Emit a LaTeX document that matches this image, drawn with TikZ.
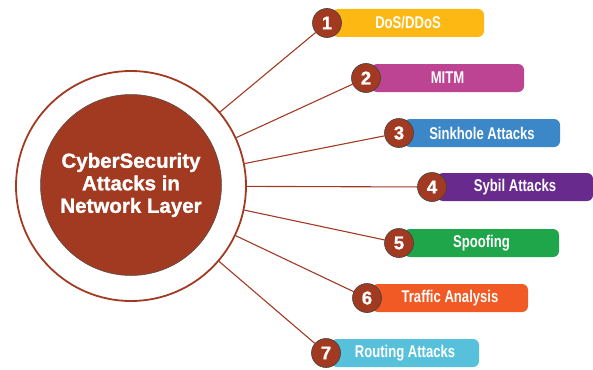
\documentclass[tikz,border=0pt]{standalone}
\usepackage{fontspec}
\setmainfont{Liberation Sans}
\newfontfamily\narrowfont[FakeStretch=0.77]{Liberation Sans}
\newfontfamily\heavyfont[BoldFeatures={FakeBold=1.2}]{Liberation Sans}
\usepackage{tikz}
\usetikzlibrary{positioning,backgrounds}
\definecolor{hubBrown}{HTML}{A23A22}
\definecolor{tagYellow}{HTML}{FDB813}
\definecolor{tagMagenta}{HTML}{BD4393}
\definecolor{tagBlue}{HTML}{3B87C8}
\definecolor{tagPurple}{HTML}{692A8E}
\definecolor{tagGreen}{HTML}{1FA64A}
\definecolor{tagOrange}{HTML}{F15A24}
\definecolor{tagCyan}{HTML}{57C1DB}

\begin{document}
\begin{tikzpicture}[
  x=1pt, y=-1pt,
  ring/.style={
    circle, draw=hubBrown, line width=1.8pt, fill=white,
    minimum size=230pt, inner sep=0pt
  },
  hub/.style={
    circle, draw=black!70, line width=0.5pt, fill=hubBrown,
    minimum size=181pt, inner sep=0pt, text=white,
    font=\heavyfont\fontsize{20.5}{22.5}\selectfont\bfseries, align=center
  },
  badge/.style={
    circle, draw=black!75, line width=0.6pt, fill=hubBrown,
    minimum size=29pt, inner sep=0pt, text=white,
    font=\heavyfont\fontsize{18.5}{18.5}\selectfont\bfseries
  },
  tag/.style={
    rectangle, rounded corners=6pt, fill=#1, draw=none,
    minimum height=28pt, inner sep=0pt, text=white,
    font=\narrowfont\fontsize{17}{17}\selectfont\bfseries
  },
  link/.style={draw=hubBrown, line width=1.1pt},
]
\useasboundingbox (0,0) rectangle (593,369);

% === Central hub ===
\node[ring] (outer) at (131,186) {};
\node[hub] (core) at (131,185) {CyberSecurity\\Attacks in\\Network Layer};

% === Numbered badges ===
\node[badge] (b1) at (327,23) {1};
\node[badge] (b2) at (366,78) {2};
\node[badge] (b3) at (399,133) {3};
\node[badge] (b4) at (432,187) {4};
\node[badge] (b5) at (399,243) {5};
\node[badge] (b6) at (367,298) {6};
\node[badge] (b7) at (326,353) {7};

% === Coloured labels (behind the badges) ===
\begin{scope}[on background layer]
  \node[tag=tagYellow, minimum width=152pt, right=-10pt of b1] (t1) {DoS/DDoS};
  \node[tag=tagMagenta, minimum width=153pt, right=-10pt of b2] (t2) {MITM};
  \node[tag=tagBlue, minimum width=156pt, right=-10pt of b3] (t3) {Sinkhole Attacks};
  \node[tag=tagPurple, minimum width=156pt, right=-10pt of b4] (t4) {Sybil Attacks};
  \node[tag=tagGreen, minimum width=155pt, right=-10pt of b5] (t5) {Spoofing};
  \node[tag=tagOrange, minimum width=156pt, right=-10pt of b6] (t6) {Traffic Analysis};
  \node[tag=tagCyan, minimum width=148pt, right=-10pt of b7] (t7) {Routing Attacks};
\end{scope}

% === Spokes ===
\draw[link] (outer) -- (b1);
\draw[link] (outer) -- (b2);
\draw[link] (outer) -- (b3);
\draw[link] (outer) -- (b4);
\draw[link] (outer) -- (b5);
\draw[link] (outer) -- (b6);
\draw[link] (outer) -- (b7);

\end{tikzpicture}
\end{document}
